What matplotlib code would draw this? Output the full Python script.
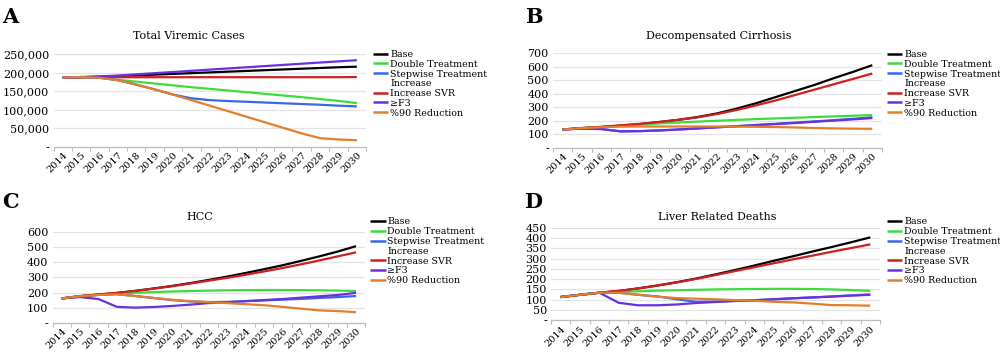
import matplotlib
matplotlib.use('Agg')
import matplotlib.pyplot as plt
from matplotlib.lines import Line2D
from matplotlib.ticker import FuncFormatter, MultipleLocator, FixedLocator

plt.rcParams['font.family'] = ['DejaVu Serif', 'DejaVu Sans']

# 数据：2014-2030 各方案预测值
years = [str(y) for y in range(2014, 2031)]

series_labels = ['Base', 'Double Treatment', 'Stepwise Treatment',
                 'Increase SVR', '\u2265F3', '%90 Reduction']
series_colors = ['#000000', '#3ddc3d', '#3a67e8', '#cf1f1f', '#6a2fe0', '#e27e2c']

# A: Total Viremic Cases
viremic_base = [187000, 188000, 189500, 191000, 193000, 195000, 197000, 199000, 201000,
                203000, 205000, 207000, 209000, 211000, 213000, 215000, 216500]
viremic_double = [187000, 188500, 186500, 181000, 176000, 171000, 166000, 161000, 156500,
                  152000, 147500, 143000, 138500, 134000, 129000, 124000, 118000]
viremic_stepwise = [187000, 188500, 186500, 180000, 168000, 155000, 141000, 131000, 126000,
                    123500, 121500, 119500, 117500, 115500, 113500, 111000, 109000]
viremic_svr = [187000, 188000, 188000, 188000, 188000, 188000, 188000, 188000, 188000,
               188000, 188000, 188000, 188000, 188000, 188000, 188000, 188500]
viremic_f3 = [187000, 188500, 190000, 192500, 195700, 198900, 202100, 205300, 208500,
              211700, 214900, 218100, 221300, 224500, 227700, 230900, 234000]
viremic_reduction = [187000, 188500, 186500, 180000, 168000, 155000, 141000, 126000, 111000,
                     96000, 81000, 66000, 51000, 36000, 23000, 19500, 17500]

# B: Decompensated Cirrhosis
cirr_base = [135, 145, 153, 163, 175, 190, 207, 228, 255, 290, 330, 375, 420, 465, 515, 562, 612]
cirr_double = [135, 145, 153, 163, 172, 180, 187, 194, 200, 206, 212, 217, 222, 227, 232, 237, 242]
cirr_stepwise = [135, 142, 138, 121, 123, 128, 135, 143, 152, 160, 169, 177, 186, 195, 204, 214, 225]
cirr_svr = [135, 146, 155, 166, 177, 191, 207, 226, 250, 280, 314, 350, 390, 430, 470, 510, 550]
cirr_f3 = [135, 142, 138, 121, 123, 128, 135, 143, 151, 159, 167, 175, 183, 192, 201, 210, 220]
cirr_reduction = [135, 145, 152, 156, 157, 157, 157, 157, 157, 156, 155, 153, 150, 146, 143, 141, 140]

# C: HCC
hcc_base = [161, 176, 186, 197, 211, 227, 244, 263, 284, 306, 330, 355, 381, 410, 440, 472, 508]
hcc_double = [161, 176, 186, 192, 198, 203, 207, 210, 213, 215, 216, 217, 217, 216, 215, 213, 210]
hcc_stepwise = [161, 176, 184, 189, 177, 164, 150, 141, 137, 138, 143, 148, 153, 158, 164, 170, 177]
hcc_svr = [161, 176, 188, 198, 211, 226, 242, 260, 279, 298, 318, 340, 363, 387, 413, 440, 467]
hcc_f3 = [161, 170, 157, 105, 100, 104, 111, 120, 130, 136, 143, 150, 157, 166, 175, 184, 198]
hcc_reduction = [161, 176, 184, 189, 177, 164, 152, 143, 136, 130, 123, 116, 105, 93, 82, 77, 70]

# D: Liver Related Deaths
deaths_base = [113, 124, 134, 142, 155, 169, 185, 203, 223, 244, 266, 289, 311, 334, 356, 379, 403]
deaths_double = [113, 124, 134, 138, 141, 144, 146, 148, 150, 151, 152, 153, 153, 152, 150, 147, 143]
deaths_stepwise = [113, 124, 134, 134, 124, 116, 102, 90, 91, 94, 98, 102, 107, 111, 116, 121, 126]
deaths_svr = [113, 124, 134, 143, 155, 169, 184, 201, 220, 239, 258, 277, 296, 314, 333, 351, 369]
deaths_f3 = [113, 124, 134, 85, 73, 73, 77, 84, 89, 94, 97, 102, 107, 111, 115, 120, 124]
deaths_reduction = [113, 124, 134, 134, 124, 115, 108, 105, 102, 98, 95, 90, 87, 81, 74, 73, 71]

panels = [
    dict(letter='A', title='Total Viremic Cases',
         data=[viremic_base, viremic_double, viremic_stepwise, viremic_svr, viremic_f3, viremic_reduction],
         rect=[0.0535, 0.5891, 0.3125, 0.2588], ymax=250000, step=50000, comma=True,
         letter_xy=(0.002, 22.7), title_xy=(189, 39.3), leg_xy=(372.7, 50.0)),
    dict(letter='B', title='Decompensated Cirrhosis',
         data=[cirr_base, cirr_double, cirr_stepwise, cirr_svr, cirr_f3, cirr_reduction],
         rect=[0.553, 0.5863, 0.329, 0.2644], ymax=700, step=100, comma=False,
         letter_xy=(0.525, 22.7), title_xy=(719, 39.3), leg_xy=(886.7, 50.0)),
    dict(letter='C', title='HCC',
         data=[hcc_base, hcc_double, hcc_stepwise, hcc_svr, hcc_f3, hcc_reduction],
         rect=[0.0525, 0.0961, 0.3127, 0.2532], ymax=600, step=100, comma=False,
         letter_xy=(0.002, 208.0), title_xy=(200, 219.7), leg_xy=(370.0, 217.5)),
    dict(letter='D', title='Liver Related Deaths',
         data=[deaths_base, deaths_double, deaths_stepwise, deaths_svr, deaths_f3, deaths_reduction],
         rect=[0.551, 0.1028, 0.329, 0.2594], ymax=450, step=50, comma=False,
         letter_xy=(0.524, 208.0), title_xy=(717, 219.7), leg_xy=(886.7, 217.5)),
]

W, H = 1000, 357
fig = plt.figure(figsize=(10, 3.57), dpi=100)

for p in panels:
    ax = fig.add_axes(p['rect'])
    x = list(range(len(years)))
    for vals, lab, col in zip(p['data'], series_labels, series_colors):
        ax.plot(x, vals, color=col, lw=1.6, label=lab, solid_capstyle='butt')

    ax.set_xlim(-0.5, len(years) - 0.5)
    ax.set_ylim(0, p['ymax'])

    # 网格和坐标轴
    ax.yaxis.set_major_locator(MultipleLocator(p['step']))
    if p['comma']:
        fmt = FuncFormatter(lambda v, pos: '-' if v == 0 else f'{v:,.0f}')
    else:
        fmt = FuncFormatter(lambda v, pos: '-' if v == 0 else f'{v:.0f}')
    ax.yaxis.set_major_formatter(fmt)
    ax.grid(axis='y', color='#e3e3e3', lw=0.9)
    ax.set_axisbelow(True)
    for s in ['left', 'right', 'top']:
        ax.spines[s].set_visible(False)
    ax.spines['bottom'].set_color('#bdbdbd')
    ax.spines['bottom'].set_linewidth(0.9)

    ax.set_xticks(x)
    ax.set_xticklabels(years, rotation=45, ha='right', va='top',
                       rotation_mode='anchor', fontsize=7)
    ax.xaxis.set_minor_locator(FixedLocator([i - 0.5 for i in range(len(years) + 1)]))
    ax.tick_params(axis='x', which='major', length=0, pad=3)
    ax.tick_params(axis='x', which='minor', length=3, color='#bdbdbd', width=0.8)
    ax.tick_params(axis='y', length=0, labelsize=8, pad=3)

    # 图例：第二行 "Increase" 没有线段
    handles, labels = ax.get_legend_handles_labels()
    handles.insert(3, Line2D([], [], color='none'))
    labels.insert(3, 'Increase')
    leg = ax.legend(handles, labels, loc='upper left',
                    bbox_to_anchor=(p['leg_xy'][0] / W, 1 - p['leg_xy'][1] / H),
                    bbox_transform=fig.transFigure, frameon=False, fontsize=6.8,
                    handlelength=1.65, handletextpad=0.2, labelspacing=0.08,
                    borderpad=0, borderaxespad=0)
    for ln in leg.get_lines():
        ln.set_linewidth(1.8)

    fig.text(p['letter_xy'][0], 1 - p['letter_xy'][1] / H, p['letter'],
             fontsize=15, fontweight='bold', va='baseline', ha='left')
    fig.text(p['title_xy'][0] / W, 1 - p['title_xy'][1] / H, p['title'],
             fontsize=8, va='baseline', ha='center')

fig.savefig('out.png', dpi=100)
